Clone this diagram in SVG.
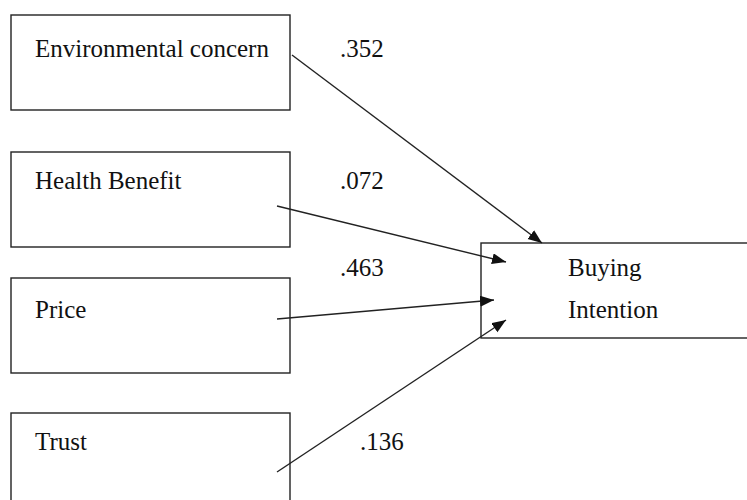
<svg xmlns="http://www.w3.org/2000/svg" width="747" height="500" viewBox="0 0 747 500">
<style>
.box{fill:#fff;stroke:#222;stroke-width:1.4}
.t{font-family:"Liberation Serif","Times New Roman",serif;font-size:25px;fill:#111}
.c{stroke:#222;stroke-width:1.4;fill:none;marker-end:url(#ah)}
</style>
<defs>
<marker id="ah" markerUnits="userSpaceOnUse" markerWidth="16" markerHeight="12" refX="14" refY="5.5" orient="auto">
<path d="M0,0 L14,5.5 L0,11 Z" fill="#111"/>
</marker>
</defs>
<rect width="747" height="500" fill="#fff"/>
<g id="env"><rect class="box" x="11" y="15" width="279" height="95"/><text class="t" x="35" y="57">Environmental concern</text></g>
<g id="health"><rect class="box" x="11" y="152" width="279" height="95"/><text class="t" x="35" y="189">Health Benefit</text></g>
<g id="price"><rect class="box" x="11" y="278" width="279" height="95"/><text class="t" x="35" y="318">Price</text></g>
<g id="trust"><rect class="box" x="11" y="413" width="279" height="95"/><text class="t" x="35" y="450">Trust</text></g>
<g id="buying"><rect class="box" x="481" y="243" width="280" height="95"/><text class="t" x="568" y="276">Buying</text><text class="t" x="568" y="318">Intention</text></g>
<g id="connectors">
<line class="c" x1="292" y1="55" x2="542" y2="243"/>
<line class="c" x1="277" y1="206" x2="506" y2="262"/>
<line class="c" x1="277" y1="319" x2="494" y2="300"/>
<line class="c" x1="277" y1="472" x2="506" y2="320"/>
<text class="t" x="340" y="57">.352</text>
<text class="t" x="340" y="189">.072</text>
<text class="t" x="340" y="276">.463</text>
<text class="t" x="360" y="450">.136</text>
</g>
</svg>
